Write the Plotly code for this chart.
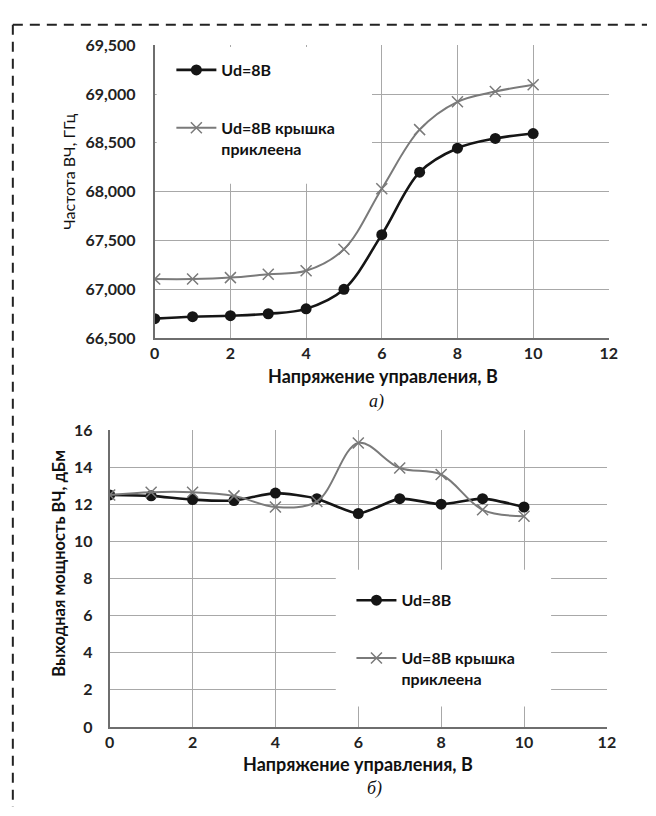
import plotly.graph_objects as go

# Control voltage, V
voltage = [0, 1, 2, 3, 4, 5, 6, 7, 8, 9, 10]

# a) RF frequency, GHz (shown with thousands separator)
freq_ud8 = [66700, 66720, 66730, 66750, 66800, 67000, 67560, 68200, 68445, 68545, 68595]
freq_ud8_lid = [67105, 67105, 67120, 67155, 67190, 67410, 68030, 68635, 68920, 69025, 69095]

# b) RF output power, dBm
pow_ud8 = [12.5, 12.45, 12.25, 12.2, 12.6, 12.3, 11.5, 12.3, 12.0, 12.3, 11.85]
pow_ud8_lid = [12.5, 12.65, 12.65, 12.45, 11.85, 12.15, 15.3, 13.95, 13.6, 11.7, 11.35]

name_a = "Ud=8В"
name_b = "Ud=8В крышка<br>приклеена"
x_title = "Напряжение управления, В"
y_title_a = "Частота ВЧ, ГГц"
y_title_b = "Выходная мощность ВЧ, дБм"

W, H = 656, 816
FONT = "Lato"
BLACK = "#151515"
GRAY = "#7a7a7a"
GRID = "#a8a8a8"
AXIS = "#6e6e6e"


def px(x):
    return x / W


def py(y):
    return 1 - y / H


fig = go.Figure()

# --- panel a) ---
fig.add_trace(go.Scatter(
    x=voltage, y=freq_ud8, name=name_a, mode="lines+markers",
    line=dict(color=BLACK, width=2.6, shape="spline"),
    marker=dict(symbol="circle", size=11, color=BLACK),
    xaxis="x", yaxis="y", legend="legend", legendgroup="a1"))
fig.add_trace(go.Scatter(
    x=voltage, y=freq_ud8_lid, name=name_b, mode="lines+markers",
    line=dict(color=GRAY, width=2, shape="spline"),
    marker=dict(symbol="x-thin", size=11, color=GRAY, line=dict(color=GRAY, width=1.5)),
    xaxis="x", yaxis="y", legend="legend", legendgroup="a2"))

# --- panel b) ---
fig.add_trace(go.Scatter(
    x=voltage, y=pow_ud8, name=name_a, mode="lines+markers",
    line=dict(color=BLACK, width=2.6, shape="spline", smoothing=0.6),
    marker=dict(symbol="circle", size=11, color=BLACK),
    xaxis="x2", yaxis="y2", legend="legend2", legendgroup="b1"))
fig.add_trace(go.Scatter(
    x=voltage, y=pow_ud8_lid, name=name_b, mode="lines+markers",
    line=dict(color=GRAY, width=2, shape="spline"),
    marker=dict(symbol="x-thin", size=11, color=GRAY, line=dict(color=GRAY, width=1.5)),
    xaxis="x2", yaxis="y2", legend="legend2", legendgroup="b2"))

tickfont = dict(family=FONT, size=16, color="#222", weight="bold")
common_axis = dict(showgrid=True, gridcolor=GRID, gridwidth=1.2, zeroline=False,
                   showline=True, linecolor=AXIS, linewidth=2, ticks="",
                   tickfont=tickfont, fixedrange=True)

legend_common = dict(bgcolor="rgba(0,0,0,0)", borderwidth=0, itemwidth=40,
                     font=dict(family=FONT, size=16, color="#111", weight="bold"),
                     tracegroupgap=34, valign="top", xanchor="left", yanchor="top",
                     traceorder="grouped")

fig.update_layout(
    width=W, height=H, margin=dict(l=0, r=0, t=0, b=0),
    paper_bgcolor="white", plot_bgcolor="white",
    xaxis=dict(domain=[px(153), px(617)], range=[0, 12], dtick=2, anchor="y", **common_axis),
    yaxis=dict(domain=[py(336), py(36)], range=[66500, 69500], dtick=500,
               tickformat=",d", anchor="x", ticklabelstandoff=14, **common_axis),
    xaxis2=dict(domain=[px(107), px(615)], range=[0, 12], dtick=2, anchor="y2", **common_axis),
    yaxis2=dict(domain=[py(734), py(430)], range=[0, 16], dtick=2, anchor="x2",
                ticklabelstandoff=12, **common_axis),
    legend=dict(x=px(170), y=py(44), **legend_common),
    legend2=dict(x=px(354), y=py(587), **legend_common),
    showlegend=True,
)

# White backdrops behind the legends (the curves never enter these areas)
fig.add_shape(type="rect", xref="paper", yref="paper", layer="above",
              x0=px(155), x1=px(375), y0=py(178), y1=py(38),
              fillcolor="white", line=dict(width=0))
fig.add_shape(type="rect", xref="paper", yref="paper", layer="above",
              x0=px(338), x1=px(558), y0=py(713), y1=py(573),
              fillcolor="white", line=dict(width=0))

# Dashed frame at the top and on the left
frame = dict(color="#222", width=2, dash="10px,7px")
fig.add_shape(type="line", xref="paper", yref="paper",
              x0=px(8), x1=1, y0=py(15), y1=py(15), line=frame)
fig.add_shape(type="line", xref="paper", yref="paper",
              x0=px(8), x1=px(8), y0=py(15), y1=0, line=frame)

# Axis titles and panel captions
title_font = dict(family=FONT, size=18, color="#111", weight="bold")
caption_font = dict(family="Liberation Serif", size=18, color="#111", style="italic")
ann = [
    dict(x=px(386), y=py(375), text=x_title, font=title_font),
    dict(x=px(361), y=py(772), text=x_title, font=title_font),
    dict(x=px(65), y=py(166), text=y_title_a, textangle=-90,
         font=dict(family=FONT, size=16, color="#111")),
    dict(x=px(55), y=py(566), text=y_title_b, textangle=-90,
         font=dict(family=FONT, size=16.5, color="#111", weight="bold")),
    dict(x=px(380), y=py(401), text="а)", font=caption_font),
    dict(x=px(378), y=py(797), text="б)", font=caption_font),
]
for a in ann:
    a.update(showarrow=False, xref="paper", yref="paper",
             xanchor="center", yanchor="middle")
fig.update_layout(annotations=ann)

fig.write_html("out.html")
